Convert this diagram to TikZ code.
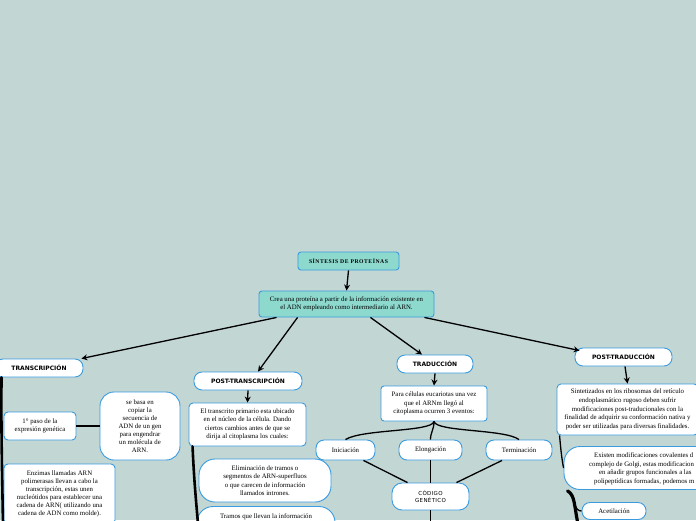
\documentclass[tikz,border=0pt]{standalone}
\usepackage{fontspec}
\setmainfont{Liberation Serif}
\newfontfamily\hdfont{DejaVu Sans}
\newfontfamily\titlefont[LetterSpace=9]{Liberation Serif}
\newfontfamily\codefont[LetterSpace=6]{DejaVu Sans}
\usetikzlibrary{arrows.meta,calc}
\definecolor{bg}{RGB}{194,214,212}
\definecolor{tealfill}{RGB}{142,217,206}
\definecolor{bord}{RGB}{58,155,222}
\begin{document}
\begin{tikzpicture}[x=1pt,y=-1pt,
  box/.style={draw=bord,line width=0.9pt,fill=white,rounded corners=#1,inner sep=0pt,align=center,
    font=\fontsize{6.8}{8.5}\selectfont},
  box/.default=4pt,
  tealbox/.style={box=3pt,fill=tealfill},
  hbox/.style={box=8pt,font=\hdfont\bfseries\fontsize{6}{7}\selectfont},
  arr/.style={-{Stealth[length=6pt,width=6pt]},line width=1.3pt,black},
  conn/.style={line width=1.3pt,black},
  heavy/.style={line width=2.6pt,black,line cap=round}
]
\useasboundingbox (0,0) rectangle (696,520);
\fill[bg] (0,0) rectangle (696,520);
\clip (0,0) rectangle (696,520);

% top
\node[tealbox,minimum width=101pt,minimum height=18pt] (sint) at (348.5,261)
  {\titlefont\bfseries\fontsize{5.7}{7}\selectfont SÍNTESIS DE PROTEÍNAS};
\node[tealbox,minimum width=175pt,minimum height=26pt] (crea) at (346.5,304)
  {Crea una proteína a partir de la información existente en\\el ADN empleando como intermediario al ARN.};

% headings
\node[hbox,minimum width=88pt,minimum height=18pt] (transc) at (39,368) {TRANSCRIPCIÓN};
\node[hbox,minimum width=108pt,minimum height=18pt] (posttrans) at (248,381) {POST-TRANSCRIPCIÓN};
\node[hbox,minimum width=76pt,minimum height=18pt] (trad) at (435,364) {TRADUCCIÓN};
\node[hbox,minimum width=97pt,minimum height=18pt] (posttrad) at (623.5,357) {POST-TRADUCCIÓN};

% transcripcion branch
\node[box=4pt,minimum width=72pt,minimum height=28pt] (paso) at (40,426)
  {1° paso de la\\expresión genética};
\node[box=14pt,minimum width=80pt,minimum height=68pt,font=\fontsize{6.8}{8}\selectfont] (sebasa) at (140,426)
  {se basa en\\copiar la\\secuencia de\\ADN de un gen\\para engendrar\\un molécula de\\ARN.};
\node[box=4pt,minimum width=111pt,minimum height=60pt,font=\fontsize{6.8}{8}\selectfont] (enzimas) at (59.5,494)
  {Enzimas llamadas ARN\\polimerasas llevan a cabo la\\transcripción, estas unen\\nucleótidos para establecer una\\cadena de ARN( utilizando una\\cadena de ADN como molde).};

% post-transcripcion branch
\node[box=4pt,minimum width=117pt,minimum height=43pt] (transcrito) at (247.5,424.5)
  {El transcrito primario esta ubicado\\en el núcleo de la célula. Dando\\ciertos cambios antes de que se\\dirija al citoplasma los cuales:};
\node[box=16pt,minimum width=132pt,minimum height=43pt] (elim) at (265,480.5)
  {Eliminación de tramos o\\segmentos de ARN-superfluos\\o que carecen de información\\llamados intrones.};
\node[box=16pt,minimum width=138pt,minimum height=44pt] (tramos) at (266,528.5) {};
\node[font=\fontsize{6.8}{8.5}\selectfont,inner sep=0pt,anchor=north] (tramostxt) at ([yshift=-7pt]tramos.north)
  {Tramos que llevan la información};

% traduccion branch
\node[box=3pt,minimum width=106pt,minimum height=35pt] (para) at (434,403.5)
  {Para células eucariotas una vez\\que el ARNm llegó al\\citoplasma ocurren 3 eventos:};
\node[box=8pt,minimum width=59pt,minimum height=20pt] (inic) at (345.5,450) {Iniciación};
\node[box=8pt,minimum width=63pt,minimum height=20pt] (elong) at (430.5,450) {Elongación};
\node[box=8pt,minimum width=66pt,minimum height=20pt] (term) at (519,450) {Terminación};
\node[box=10pt,minimum width=77pt,minimum height=27pt,font=\codefont\fontsize{5.5}{7.5}\selectfont] (codigo) at (430.5,496.5)
  {CÓDIGO\\GENÉTICO};

% post-traduccion branch
\node[box=4pt,minimum width=141pt,minimum height=51pt,font=\fontsize{6.8}{8.7}\selectfont] (sintet) at (627.5,409.5)
  {Sintetizados en los ribosomas del retículo\\endoplasmático rugoso deben sufrir\\modificaciones post-traducionales con la\\finalidad de adquirir su conformación nativa y\\poder ser utilizadas para diversas finalidades.};
\node[box=16pt,minimum width=160pt,minimum height=43pt] (existen) at (644,468) {};
\begin{scope}[every node/.style={font=\fontsize{6.8}{8.5}\selectfont,inner sep=0pt,anchor=base west}]
\node (ex1) at (594,457.5) {Existen modificaciones covalentes d};
\node (ex2) at (589,466) {complejo de Golgi, estas modificacion};
\node (ex3) at (599,474.5) {en añadir grupos funcionales a las};
\node (ex4) at (594,483) {polipeptídicas formadas, podemos m};
\end{scope}
\node[box=8pt,minimum width=64pt,minimum height=17pt] (acet) at (614,511) {Acetilación};

% connectors
\draw[arr] (sint.south) -- (crea.north);
\draw[arr] ([xshift=18pt]crea.south west) -- ([xshift=-2pt]transc.north east);
\draw[arr] ([xshift=39pt]crea.south west) -- ([xshift=10pt]posttrans.north);
\draw[arr] ([xshift=-64pt]crea.south east) -- ([xshift=-13pt]trad.north);
\draw[arr] ([xshift=-10pt]crea.south east) -- ([xshift=5pt,yshift=-3pt]posttrad.north west);

\draw[arr] (posttrans.south) -- (transcrito.north);
\draw[arr] (trad.south) -- (para.north);
\draw[arr] ([xshift=1.5pt]posttrad.south) -- (sintet.north);

\coordinate (tbot) at (3,524);
\draw[heavy] ([xshift=7pt]transc.south west) .. controls (1,420) and (2,470) .. (tbot);
\draw[conn] (paso.east) -- (sebasa.west);

\coordinate (ptbot) at (198,524);
\draw[heavy] ([xshift=4pt]transcrito.south west) .. controls (194,480) and (196,500) .. (ptbot);

\draw[conn] (para.south) .. controls (432,432) and (362,429) .. (inic.north);
\draw[conn] (para.south) .. controls (434,430) and (430.5,432) .. (elong.north);
\draw[conn] (para.south) .. controls (436,432) and (505,429) .. (term.north);
\draw[conn] ([xshift=18pt]inic.south) -- ([xshift=-23pt]codigo.north);
\draw[conn] (elong.south) -- (codigo.north);
\draw[conn] ([xshift=-17pt]term.south) -- ([xshift=26pt]codigo.north);
\coordinate (cbot) at (430.5,524);
\draw[conn] (codigo.south) -- (cbot);

\draw[conn] ([xshift=3pt]sintet.south west) .. controls (561,452) and (562,460) .. (existen.west);
\coordinate (exbot) at (578,524);
\draw[line width=3.2pt,line cap=round] ([xshift=4pt,yshift=-1pt]existen.south west) .. controls (575,495) and (574,505) .. (exbot);
\draw[conn] (570,494) .. controls (575,500) and (574,511) .. (acet.west);
\end{tikzpicture}
\end{document}
